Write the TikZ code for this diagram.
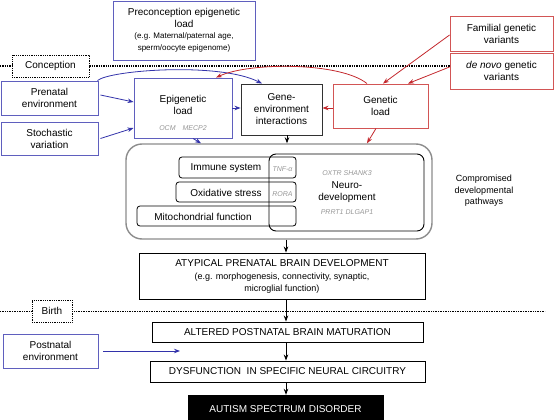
\documentclass[tikz,border=0pt]{standalone}
\usepackage{fontspec}
\setmainfont{Liberation Sans}
\usetikzlibrary{arrows.meta}
\definecolor{bbox}{RGB}{95,95,190}
\definecolor{barrow}{RGB}{50,50,170}
\definecolor{rbox}{RGB}{210,85,85}
\definecolor{rarrow}{RGB}{195,40,45}
\definecolor{gtxt}{RGB}{150,150,150}
\definecolor{obox}{RGB}{140,140,140}
\definecolor{dbox}{RGB}{50,50,50}
\begin{document}
\begin{tikzpicture}[x=1pt,y=-1pt,
  every node/.style={font=\fontsize{10}{12}\selectfont, inner sep=0pt, align=center},
  bluebox/.style={draw=bbox, line width=0.9pt},
  redbox/.style={draw=rbox, line width=0.9pt},
  blackbox/.style={draw=dbox, line width=0.9pt},
  dotbox/.style={draw=black, densely dotted, line width=0.8pt},
  smallbox/.style={draw=black, line width=0.8pt, rounded corners=3pt},
  gene/.style={font=\fontsize{7}{8}\selectfont\itshape, text=gtxt},
  small/.style={font=\fontsize{8}{11}\selectfont},
  arr/.style={-{Stealth[length=6pt,width=4.5pt]}, line width=0.8pt},
  barr/.style={arr, draw=barrow},
  rarr/.style={arr, draw=rarrow},
  karr/.style={arr, draw=black},
]
\useasboundingbox (0,0) rectangle (555,420);
\clip (0,0) rectangle (555,420);

% top boxes
\node[bluebox, minimum width=142pt, minimum height=59pt] (pre) at (184,30.5)
  {Preconception epigenetic\\load\\[-1pt]{\fontsize{8}{11}\selectfont (e.g. Maternal/paternal age,}\\{\fontsize{8}{11}\selectfont sperm/oocyte epigenome)}};
\node[dotbox, minimum width=77pt, minimum height=22pt] (conc) at (50.5,66) {Conception};
\node[redbox, minimum width=103pt, minimum height=35pt] (fam) at (501.5,33.5) {Familial genetic\\variants};
\node[redbox, minimum width=103pt, minimum height=36pt] (dn) at (501.5,71) {\textit{de novo} genetic\\variants};
\node[bluebox, minimum width=97pt, minimum height=34pt] (pren) at (49.5,98) {Prenatal\\environment};
\node[bluebox, minimum width=97pt, minimum height=33pt] (stoch) at (49.5,138.5) {Stochastic\\variation};
\node[bluebox, minimum width=98pt, minimum height=60pt] (epi) at (183,108) {};
\node (epit) at (183,104.5) {Epigenetic\\load};
\node[gene] (epig) at (183,128) {OCM\quad MECP2};
\node[blackbox, minimum width=81pt, minimum height=51pt] (gxe) at (281.5,109.5) {Gene-\\environment\\interactions};
\node[redbox, minimum width=95pt, minimum height=44pt] (gen) at (380.5,106) {Genetic\\load};

% conception line
\coordinate (cl0) at (0,66);
\draw[densely dotted, line width=1.3pt] (cl0) -- (conc.west);
\draw[densely dotted, line width=1.3pt] (conc.east) -- (conc.east -| dn.west);

% middle
\node[draw=obox, line width=1.4pt, rounded corners=16pt, minimum width=306pt, minimum height=95pt] (outer) at (279,191.5) {};
\node[smallbox, minimum width=117pt, minimum height=21pt] (imm) at (237.5,167.5) {};
\node[smallbox, minimum width=120pt, minimum height=20pt] (ox) at (236,192) {};
\node[smallbox, minimum width=159pt, minimum height=20pt] (mito) at (216.5,216) {};
\node[draw=black, line width=0.9pt, rounded corners=7pt, minimum width=155pt, minimum height=77pt] (neuro) at (346.5,192.5) {};
\node (immt) at (226,168) {Immune system};
\node (oxt) at (226,193) {Oxidative stress};
\node (mitot) at (203,217) {Mitochondrial function};
\node[gene] (tnf) at (282.5,169) {TNF-α};
\node[gene] (rora) at (282.5,194) {RORA};
\node[gene] (ng1) at (347,173) {OXTR SHANK3};
\node (neurot) at (347,192) {Neuro-\\development};
\node[gene] (ng2) at (347,212) {PRRT1 DLGAP1};
\node[font=\fontsize{9}{11.5}\selectfont] (comp) at (484,191) {Compromised\\developmental\\pathways};

% bottom
\node[draw=black, line width=0.9pt, minimum width=286pt, minimum height=46pt] (atyp) at (282,276)
  {ATYPICAL PRENATAL BRAIN DEVELOPMENT\\[1pt]{\fontsize{9}{11}\selectfont (e.g. morphogenesis, connectivity, synaptic,}\\{\fontsize{9}{11}\selectfont microglial function)}};
\node[dotbox, minimum width=40pt, minimum height=22pt] (birth) at (52,311) {Birth};
\coordinate (bl0) at (0,311);
\coordinate (bl1) at (545,311);
\draw[densely dotted, line width=0.7pt] (bl0) -- (birth.west);
\draw[densely dotted, line width=0.7pt] (birth.east) -- (bl1);
\node[draw=black, line width=0.9pt, minimum width=271pt, minimum height=20pt] (alt) at (287.5,332) {ALTERED POSTNATAL BRAIN MATURATION};
\node[bluebox, minimum width=95pt, minimum height=34pt] (postn) at (50.5,351) {Postnatal\\environment};
\node[draw=black, line width=0.9pt, minimum width=275pt, minimum height=21pt] (dys) at (287.5,371.5) {DYSFUNCTION\ \ IN SPECIFIC NEURAL CIRCUITRY};
\node[draw=black, fill=black, text=white, minimum width=195pt, minimum height=28pt] (aut) at (285.5,409) {AUTISM SPECTRUM DISORDER};

% connectors top
\draw[barr] ([xshift=-1pt]pren.north east) .. controls (110,70) and (220,62) .. ([xshift=-19.5pt]gxe.north);
\draw[rarr] ([xshift=-13.5pt]gen.north) .. controls (340,62) and (250,62) .. ([xshift=33pt]epi.north);
\draw[barr] ([xshift=2pt,yshift=3pt]pren.east) -- ([yshift=6pt]epi.west);
\draw[barr] ([xshift=2pt]stoch.east) -- ([yshift=-20pt]epi.west);
\draw[barr] (epi.east) -- (gxe.west |- epi.east);
\draw[rarr] (gen.west |- epi.east) -- (gxe.east |- epi.east);
\draw[rarr] ([yshift=-1.5pt]fam.west) -- ([xshift=2.5pt]gen.north);
\draw[rarr] ([yshift=4pt]dn.west) -- ([xshift=27.5pt]gen.north);
\draw[barr] ([xshift=10pt]epi.south) -- ([xshift=18pt]epi.south |- outer.north);
\draw[rarr] ([xshift=-4.5pt]gen.south) -- ([xshift=-13.5pt]gen.south |- outer.north);
\draw[karr] ([xshift=5.5pt]gxe.south) -- ([xshift=5.5pt]gxe.south |- outer.north);

% connectors bottom
\coordinate (ax) at (286,0);
\draw[karr] (outer.south -| ax) -- (atyp.north -| ax);
\draw[karr] (atyp.south -| ax) -- (alt.north -| ax);
\draw[karr] (alt.south -| ax) -- (dys.north -| ax);
\draw[karr] (dys.south -| ax) -- (aut.north -| ax);
\coordinate (pend) at (180,351);
\draw[barr] ([xshift=5pt]postn.east) -- (pend);
\end{tikzpicture}
\end{document}
